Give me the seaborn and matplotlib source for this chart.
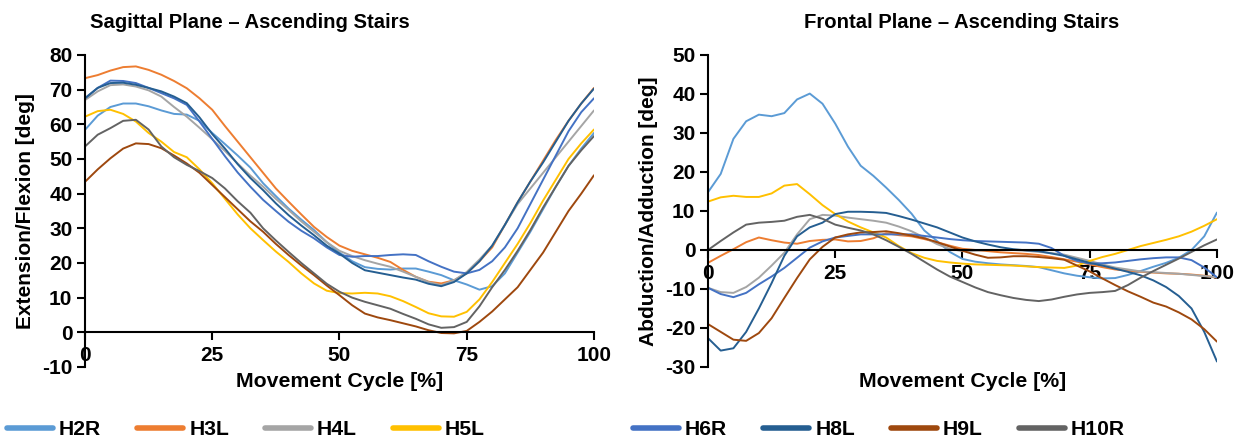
import numpy as np
import pandas as pd
import seaborn as sns
import matplotlib
matplotlib.use("Agg")
import matplotlib.pyplot as plt
from matplotlib import font_manager
from matplotlib.lines import Line2D

# ---------------- data ----------------
cycle = [i * 2.5 for i in range(41)]  # 0, 2.5, ..., 100 (% of movement cycle)
subjects = ["H2R", "H3L", "H4L", "H5L", "H6R", "H8L", "H9L", "H10R"]

# Sagittal plane (extension / flexion, deg)
sag_H2R = [58.4, 62.5, 65.0, 66.0, 66.0, 65.2, 64.0, 63.0, 62.8, 61.0, 57.5, 54.3, 51.0, 47.5, 43.0, 39.3, 35.7, 32.5, 29.5, 26.0, 23.0,
           20.5, 18.8, 18.3, 18.1, 18.4, 18.4, 17.5, 16.5, 15.0, 13.8, 12.3, 13.3, 17.0, 23.0, 29.0, 35.5, 42.0, 48.0, 53.0, 57.5]
sag_H3L = [73.3, 74.2, 75.5, 76.5, 76.7, 75.7, 74.3, 72.5, 70.4, 67.5, 64.2, 59.5, 55.0, 50.5, 46.0, 41.5, 37.7, 34.0, 30.4, 27.5, 25.0,
           23.5, 22.5, 21.5, 20.3, 18.0, 16.0, 14.6, 14.1, 15.0, 17.0, 20.5, 24.5, 31.0, 37.5, 43.5, 49.5, 55.5, 61.0, 66.0, 70.5]
sag_H4L = [67.0, 69.5, 71.3, 71.5, 70.9, 69.8, 68.0, 65.0, 62.2, 59.0, 55.7, 52.3, 48.7, 45.2, 42.0, 38.5, 35.3, 32.0, 29.0, 26.0, 23.5,
           22.0, 20.8, 19.8, 18.9, 17.5, 16.0, 14.5, 13.6, 15.0, 17.4, 21.0, 25.0, 31.0, 37.0, 41.5, 46.0, 50.5, 55.0, 59.5, 64.0]
sag_H5L = [62.2, 63.8, 64.2, 63.0, 60.8, 57.5, 55.0, 52.0, 50.5, 47.0, 43.0, 38.5, 34.0, 30.0, 26.6, 23.3, 20.3, 17.0, 14.1, 12.0, 11.3,
           11.2, 11.4, 11.2, 10.4, 9.0, 7.3, 5.5, 4.6, 4.5, 5.9, 9.5, 14.5, 20.0, 25.5, 31.5, 38.0, 44.0, 50.0, 54.5, 58.5]
sag_H6R = [67.5, 70.5, 72.6, 72.5, 71.9, 70.5, 69.0, 67.5, 65.6, 60.8, 55.8, 50.8, 46.1, 42.0, 38.2, 35.0, 31.9, 29.3, 27.1, 24.5, 22.3,
           21.8, 22.0, 22.0, 22.3, 22.5, 22.3, 20.5, 18.9, 17.5, 17.0, 18.0, 20.5, 24.5, 30.0, 37.0, 44.0, 51.0, 58.0, 63.5, 67.5]
sag_H8L = [67.5, 70.5, 71.9, 72.0, 71.4, 70.5, 69.5, 68.0, 66.1, 62.0, 57.2, 53.0, 48.5, 44.5, 41.0, 37.2, 33.8, 30.8, 28.0, 25.0, 22.7,
           20.0, 17.9, 17.2, 16.5, 15.8, 15.2, 14.0, 13.3, 14.5, 17.0, 20.5, 25.0, 31.0, 37.5, 43.5, 49.0, 55.0, 61.0, 66.0, 70.3]
sag_H9L = [43.4, 47.0, 50.2, 53.0, 54.5, 54.3, 53.1, 51.0, 48.7, 46.0, 42.5, 39.0, 35.5, 32.0, 29.0, 25.5, 22.3, 19.3, 16.5, 13.5, 10.7,
           7.8, 5.4, 4.3, 3.5, 2.6, 1.7, 0.6, -0.2, -0.3, 0.4, 3.0, 6.0, 9.5, 13.0, 18.0, 23.0, 29.0, 35.0, 40.0, 45.3]
sag_H10R = [53.6, 57.0, 58.9, 61.0, 61.3, 58.5, 53.6, 50.5, 48.3, 46.5, 44.5, 41.5, 37.8, 34.5, 30.0, 26.5, 23.2, 20.0, 17.0, 14.0, 11.7,
            10.0, 8.8, 7.8, 6.8, 5.3, 3.9, 2.3, 1.3, 1.5, 3.0, 7.5, 13.0, 18.0, 23.5, 29.5, 36.0, 42.0, 48.0, 52.5, 56.6]

# Frontal plane (abduction / adduction, deg)
fro_H2R = [14.8, 19.5, 28.5, 33.0, 34.7, 34.3, 35.1, 38.6, 40.1, 37.5, 32.4, 26.5, 21.6, 19.0, 16.0, 12.8, 9.3, 5.0, 2.3, -0.5, -2.3,
           -3.0, -3.4, -3.7, -3.9, -4.1, -4.4, -5.2, -6.0, -6.6, -7.0, -7.3, -7.2, -6.4, -5.4, -4.3, -3.3, -2.0, 0.0, 3.5, 9.6]
fro_H3L = [-3.3, -1.5, 0.2, 2.0, 3.2, 2.5, 1.9, 1.6, 2.3, 2.6, 2.7, 2.2, 2.3, 3.0, 4.3, 3.8, 3.5, 2.8, 2.0, 1.1, 0.3,
           0.0, -0.3, -0.6, -0.8, -1.0, -1.3, -1.8, -2.4, -3.0, -3.7, -4.4, -5.0, -5.3, -5.6, -5.8, -6.0, -6.1, -6.3, -6.6, -7.1]
fro_H4L = [-9.7, -10.8, -11.0, -9.5, -7.1, -4.0, -0.7, 4.0, 7.9, 9.0, 8.8, 8.3, 7.9, 7.5, 7.0, 6.0, 4.8, 3.2, 1.5, 0.3, -0.3,
           -0.2, 0.0, 0.0, 0.0, -0.2, -0.5, -0.8, -1.2, -2.0, -2.8, -3.7, -4.5, -5.0, -5.5, -5.7, -5.9, -6.1, -6.4, -6.7, -7.0]
fro_H5L = [12.4, 13.5, 13.9, 13.6, 13.6, 14.5, 16.5, 16.9, 14.3, 11.5, 9.2, 7.3, 5.8, 4.5, 3.2, 1.0, -0.8, -2.0, -2.8, -3.2, -3.5,
           -3.7, -3.8, -3.9, -4.0, -4.2, -4.4, -4.5, -4.6, -4.0, -2.8, -1.8, -1.0, 0.0, 1.0, 1.8, 2.6, 3.5, 4.7, 6.2, 7.9]
fro_H6R = [-9.7, -11.3, -12.1, -11.0, -8.8, -6.8, -4.6, -2.0, 0.6, 2.2, 3.2, 3.6, 4.0, 4.0, 4.0, 4.0, 4.0, 3.6, 3.2, 2.8, 2.5,
           2.3, 2.2, 2.1, 2.0, 1.9, 1.6, 0.5, -1.5, -2.8, -3.5, -3.4, -3.2, -2.8, -2.4, -2.1, -1.9, -1.9, -2.6, -4.5, -7.0]
fro_H8L = [-22.6, -25.8, -25.2, -21.0, -15.0, -8.5, -1.5, 3.5, 5.8, 7.0, 9.2, 9.8, 9.8, 9.7, 9.5, 8.7, 7.8, 6.8, 5.8, 4.5, 3.2,
           2.2, 1.4, 0.7, 0.2, -0.1, -0.3, -0.9, -1.5, -2.4, -3.3, -4.0, -4.8, -5.6, -6.5, -7.8, -9.5, -11.8, -15.0, -21.0, -28.6]
fro_H9L = [-19.0, -21.0, -23.0, -23.3, -21.3, -17.5, -12.3, -7.2, -2.4, 0.8, 3.2, 4.0, 4.5, 4.6, 4.8, 4.3, 3.7, 3.0, 2.0, 0.9, -0.2,
           -1.2, -2.0, -1.9, -1.6, -1.6, -1.8, -2.1, -2.5, -4.0, -5.5, -7.3, -9.0, -10.6, -12.0, -13.5, -14.5, -16.0, -17.8, -20.3, -23.5]
fro_H10R = [0.0, 2.3, 4.5, 6.5, 7.0, 7.2, 7.5, 8.5, 9.0, 8.0, 6.5, 5.7, 5.0, 4.0, 2.5, 0.8, -1.0, -3.0, -5.0, -6.8, -8.2,
            -9.6, -10.8, -11.6, -12.3, -12.8, -13.1, -12.7, -12.0, -11.4, -11.0, -10.8, -10.5, -9.0, -7.1, -5.4, -3.8, -2.2, -0.5, 1.2, 2.7]

sag_ticks = list(range(-10, 81, 10))
fro_ticks = list(range(-30, 51, 10))
x_ticks = [0, 25, 50, 75, 100]

colors = ["#5B9BD5", "#ED7D31", "#A5A5A5", "#FFC000", "#4472C4", "#255E91", "#9E480E", "#636363"]
palette = dict(zip(subjects, colors))

sag = dict(zip(subjects, [sag_H2R, sag_H3L, sag_H4L, sag_H5L, sag_H6R, sag_H8L, sag_H9L, sag_H10R]))
fro = dict(zip(subjects, [fro_H2R, fro_H3L, fro_H4L, fro_H5L, fro_H6R, fro_H8L, fro_H9L, fro_H10R]))


def long_df(d):
    rows = []
    for s in subjects:
        for x, v in zip(cycle, d[s]):
            rows.append({"cycle": x, "angle": v, "subject": s})
    return pd.DataFrame(rows)


df_sag = long_df(sag)
df_fro = long_df(fro)

# ---------------- style ----------------
sns.set_theme(style="white")
names = {f.name for f in font_manager.fontManager.ttflist}
family = "Liberation Sans" if "Liberation Sans" in names else "DejaVu Sans"
plt.rcParams["font.family"] = [family, "DejaVu Sans"]
plt.rcParams["font.weight"] = "bold"
plt.rcParams["axes.unicode_minus"] = False

fs_title = 14.6
fs_tick = 15.0
fs_xlab = 15.3
fs_ylab = 15.0
fs_leg = 15.2

fig = plt.figure(figsize=(12.46, 4.43), dpi=100)
ax1 = fig.add_axes([0.0682, 0.1716, 0.4085, 0.7043])
ax2 = fig.add_axes([0.5682, 0.1716, 0.4085, 0.7043])

for ax, df, ylim, yt, ylabel in [
    (ax1, df_sag, (-10, 80), sag_ticks, "Extension/Flexion [deg]"),
    (ax2, df_fro, (-30, 50), fro_ticks, "Abduction/Adduction [deg]"),
]:
    sns.lineplot(data=df, x="cycle", y="angle", hue="subject", hue_order=subjects,
                 palette=palette, linewidth=1.4, legend=False, ax=ax)
    ax.set_xlim(0, 100)
    ax.set_ylim(*ylim)
    ax.set_xticks(x_ticks)
    ax.set_yticks(yt)
    ax.spines["top"].set_visible(False)
    ax.spines["right"].set_visible(False)
    ax.spines["bottom"].set_position(("data", 0))
    for sp in ("left", "bottom"):
        ax.spines[sp].set_color("black")
        ax.spines[sp].set_linewidth(1.5)
    ax.tick_params(axis="both", direction="out", length=6, width=1.5, colors="black",
                   labelsize=fs_tick, bottom=True, left=True)
    ax.tick_params(axis="x", pad=4)
    ax.tick_params(axis="y", pad=3)
    ax.set_xlabel("Movement Cycle [%]", fontsize=fs_xlab, fontweight="bold", color="black")
    ax.set_ylabel(ylabel, fontsize=fs_ylab, fontweight="bold", color="black")
    ax.xaxis.set_label_coords(0.5, -0.015)
    ax.yaxis.set_label_coords(-0.098, 0.5)
    ax.set_facecolor("white")

fig.text(250 / 1246, 1 - 22 / 443, "Sagittal Plane \u2013 Ascending Stairs", ha="center", va="center",
         fontsize=fs_title, fontweight="bold", color="black")
fig.text(962 / 1246, 1 - 22 / 443, "Frontal Plane \u2013 Ascending Stairs", ha="center", va="center",
         fontsize=fs_title, fontweight="bold", color="black")

# legends: four entries under each chart
em = fs_leg * 100 / 72.0
handles = [Line2D([], [], color=palette[s], linewidth=4, solid_capstyle="round") for s in subjects]
common = dict(frameon=False, ncol=4, fontsize=fs_leg, handlelength=46 / em, handletextpad=6 / em,
              columnspacing=36 / em, borderpad=0, borderaxespad=0, loc="center left")
leg1 = fig.legend(handles[:4], subjects[:4], bbox_to_anchor=(7 / 1246, 0.03), **common)
leg2 = fig.legend(handles[4:], subjects[4:], bbox_to_anchor=(633 / 1246, 0.03), **common)
for leg in (leg1, leg2):
    for t in leg.get_texts():
        t.set_fontweight("bold")
        t.set_color("black")

fig.savefig("out.png", dpi=100, facecolor="white")
